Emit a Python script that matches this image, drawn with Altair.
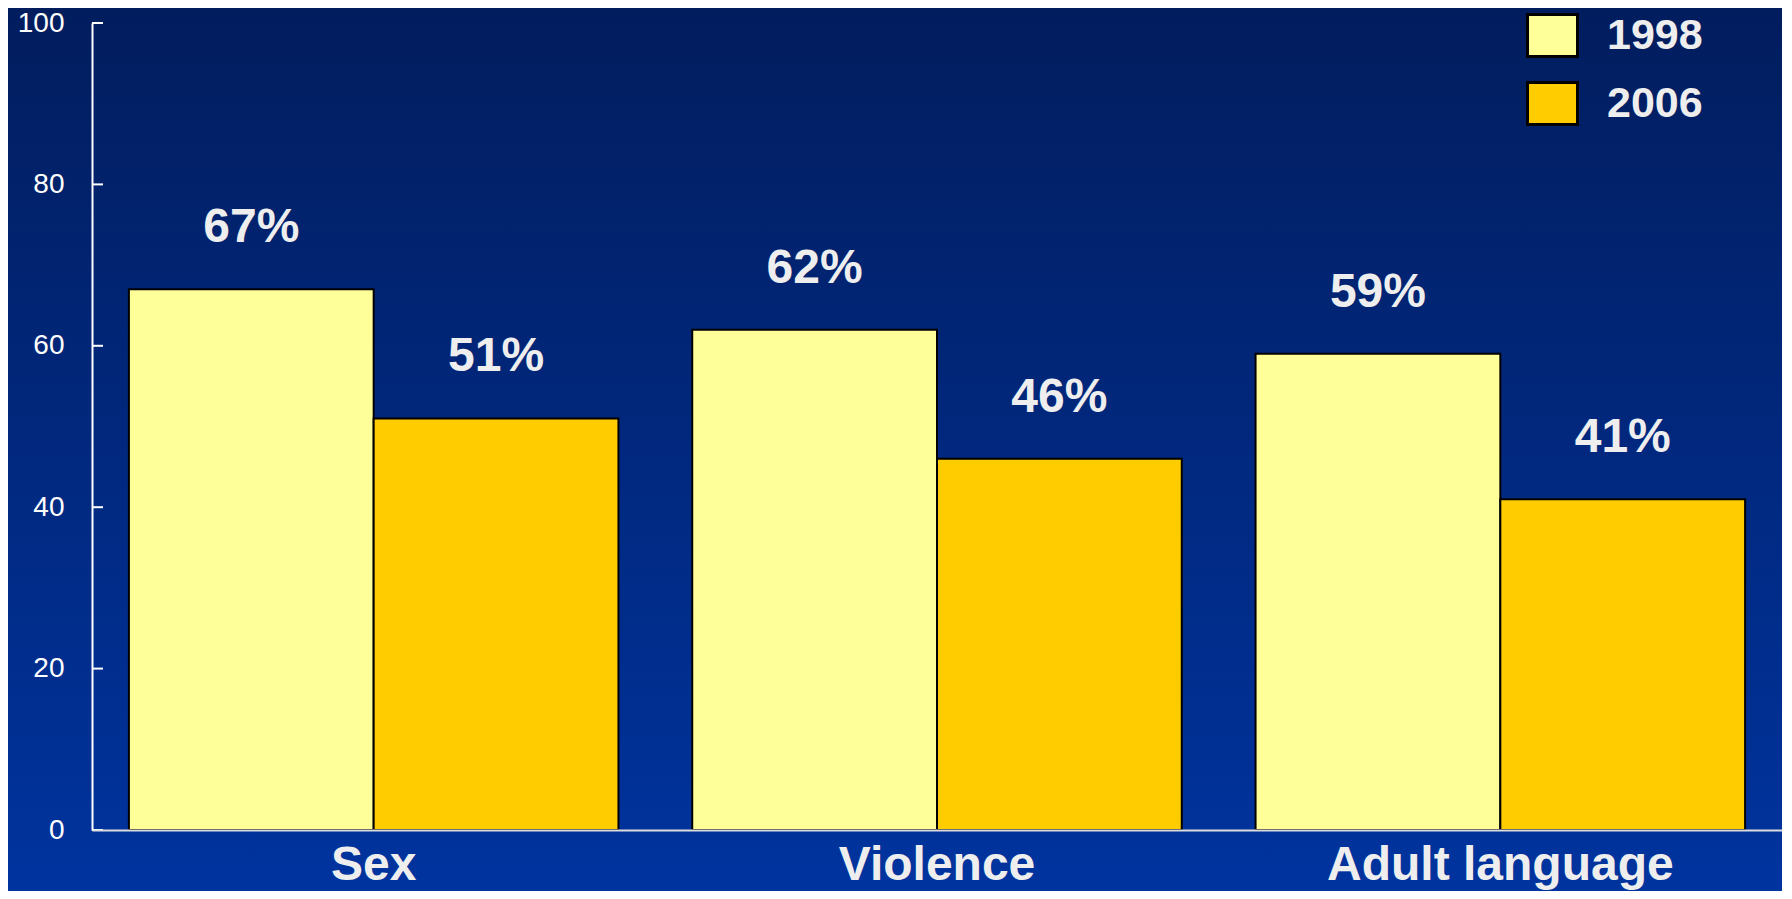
import altair as alt
import pandas as pd

categories = ["Sex", "Violence", "Adult language"]
years = ["1998", "2006"]
values_1998 = [67, 62, 59]
values_2006 = [51, 46, 41]
tick_values = [0, 20, 40, 60, 80, 100]

rows = []
for c, a, b in zip(categories, values_1998, values_2006):
    rows.append({"category": c, "year": "1998", "value": a, "label": f"{a}%"})
    rows.append({"category": c, "year": "2006", "value": b, "label": f"{b}%"})
df = pd.DataFrame(rows)
ticks_df = pd.DataFrame({"t": tick_values})

W, H = 1690, 807
PL, PT, PR, PB = 84, 15, 0, 61
FONT = "Liberation Sans"
TXT = "#EEEEEE"

x_scale = alt.Scale(paddingInner=0.131, paddingOuter=0.0655)
x_enc = alt.X("category:N", sort=categories, scale=x_scale,
              axis=alt.Axis(title=None, labelAngle=0, ticks=False, labelFontSize=48,
                            labelFontWeight="bold", labelColor=TXT, labelFont=FONT,
                            labelPadding=11, labelLimit=0, domainColor="#DDDDDD",
                            domainWidth=2, grid=False, zindex=2))
xo = alt.XOffset("year:N", sort=years, scale=alt.Scale(paddingInner=0, paddingOuter=0))
y_scale = alt.Scale(domain=[0, 100], nice=False)

bg = alt.Chart(pd.DataFrame({"a": [0]})).mark_rect(
    fill=alt.Gradient(gradient="linear",
                      stops=[alt.GradientStop(color="#021D5E", offset=0),
                             alt.GradientStop(color="#0034A0", offset=1)],
                      x1=0, x2=0, y1=0, y2=1),
).encode(x=alt.value(-PL), x2=alt.value(W + PR + 20),
         y=alt.value(-PT), y2=alt.value(H + PB + 20))

bars = alt.Chart(df).mark_bar(stroke="black", strokeWidth=2).encode(
    x=x_enc,
    xOffset=xo,
    y=alt.Y("value:Q", scale=y_scale,
            axis=alt.Axis(title=None, values=tick_values, ticks=False, grid=False,
                          labelFontSize=28, labelColor="white", labelFont=FONT,
                          labelPadding=28, domainColor="white", domainWidth=2,
                          zindex=2)),
    color=alt.Color("year:N", sort=years,
                    scale=alt.Scale(domain=years, range=["#FFFF99", "#FFCC00"]),
                    legend=alt.Legend(title=None, orient="none", legendX=1434, legendY=-14,
                                      symbolType="M-1,-0.84H1V0.84H-1Z", symbolSize=2500,
                                      symbolStrokeColor="black", symbolStrokeWidth=3,
                                      symbolOpacity=1, rowPadding=13, labelOffset=28,
                                      labelFontSize=43, labelFontWeight="bold",
                                      labelColor=TXT, labelFont=FONT, padding=0)),
)

labels = alt.Chart(df).mark_text(fontSize=48, fontWeight="bold", color=TXT, font=FONT,
                                 baseline="middle", dy=-61).encode(
    x=alt.X("category:N", sort=categories, scale=x_scale),
    xOffset=xo,
    y=alt.Y("value:Q", scale=y_scale),
    text="label:N",
)

ticks = alt.Chart(ticks_df).mark_rule(color="white", strokeWidth=2).encode(
    y=alt.Y("t:Q", scale=y_scale),
    x=alt.value(0), x2=alt.value(11),
)

chart = alt.layer(bg, bars, labels, ticks).properties(
    width=W, height=H,
    autosize=alt.AutoSizeParams(type="none"),
    padding={"left": PL, "top": PT, "right": PR, "bottom": PB},
    background="#012A80",
).configure_view(strokeWidth=0)

chart.save("out.html", embed_options={"renderer": "svg", "actions": False})
